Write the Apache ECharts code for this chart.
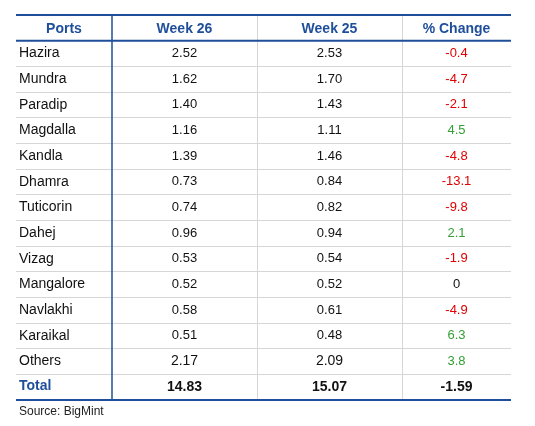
<!DOCTYPE html>
<html>
<head>
<meta charset="utf-8">
<script src="https://cdn.jsdelivr.net/npm/echarts@6/dist/echarts.min.js"></script>
<style>
html, body { margin: 0; padding: 0; background: #fff; }
#main { width: 535px; height: 426px; }
</style>
</head>
<body>
<div id="main"></div>
<script>
// table data
var headers = ['Ports', 'Week 26', 'Week 25', '% Change'];
var ports = ['Hazira', 'Mundra', 'Paradip', 'Magdalla', 'Kandla', 'Dhamra', 'Tuticorin',
    'Dahej', 'Vizag', 'Mangalore', 'Navlakhi', 'Karaikal', 'Others'];
var week26 = [2.52, 1.62, 1.40, 1.16, 1.39, 0.73, 0.74, 0.96, 0.53, 0.52, 0.58, 0.51, 2.17];
var week25 = [2.53, 1.70, 1.43, 1.11, 1.46, 0.84, 0.82, 0.94, 0.54, 0.52, 0.61, 0.48, 2.09];
var pctChange = [-0.4, -4.7, -2.1, 4.5, -4.8, -13.1, -9.8, 2.1, -1.9, 0, -4.9, 6.3, 3.8];
var totalLabel = 'Total';
var totals = [14.83, 15.07, -1.59];
var source = 'Source: BigMint';

var BLUE = '#1f4e9a', GRAY = '#d6d6d6', RED = '#e00000', GREEN = '#35a035';
var FONT = '"Liberation Sans", Arial, sans-serif';

var rowKeys = [headers[0]].concat(ports, [totalLabel]);
var lastRow = rowKeys.length - 1;

function pctText(v) { return v === 0 ? '0' : v.toFixed(1); }

// one text list per column
var cells = [
    [headers[0]].concat(ports, [totalLabel]),
    [headers[1]].concat(week26.map(function (v) { return v.toFixed(2); }), [totals[0].toFixed(2)]),
    [headers[2]].concat(week25.map(function (v) { return v.toFixed(2); }), [totals[1].toFixed(2)]),
    [headers[3]].concat(pctChange.map(pctText), [totals[2].toFixed(2)])
];

var colLeft = [16, 112, 257, 402];
var colRight = [112, 257, 402, 511];

function cellStyle(col, row) {
    if (row === 0) {
        return { fill: BLUE, font: 'bold 14px ' + FONT, align: 'center' };
    }
    if (row === lastRow) {
        return { fill: col === 0 ? BLUE : '#111', font: 'bold 14px ' + FONT, align: col === 0 ? 'left' : 'center' };
    }
    if (col === 0) {
        return { fill: '#111', font: '14px ' + FONT, align: 'left' };
    }
    if (col === 3) {
        var v = pctChange[row - 1];
        return { fill: v < 0 ? RED : (v > 0 ? GREEN : '#111'), font: '13px ' + FONT, align: 'center' };
    }
    var big = rowKeys[row] === 'Others';
    return { fill: '#111', font: (big ? '14px ' : '13px ') + FONT, align: 'center' };
}

function makeRender(col) {
    return function (params, api) {
        var row = params.dataIndex;
        var c = api.coord([0.5, row]);
        var x0 = api.coord([0, row])[0];
        var x1 = api.coord([1, row])[0];
        var h = api.size([0, 1])[1];
        var top = c[1] - h / 2, bottom = c[1] + h / 2;
        var st = cellStyle(col, row);
        var children = [{
            type: 'text',
            style: {
                text: cells[col][row],
                x: st.align === 'left' ? x0 + 3 : c[0],
                y: c[1] + (row === 0 ? 1 : 0) + (row === lastRow && col === 0 ? -1 : 0),
                align: st.align,
                verticalAlign: 'middle',
                font: st.font,
                fill: st.fill
            }
        }];
        var band = { fill: BLUE };
        if (row === 0) {
            children.push({ type: 'rect', shape: { x: x0, y: top - 1, width: x1 - x0, height: 2 }, style: band });
            children.push({ type: 'rect', shape: { x: x0, y: bottom - 1, width: x1 - x0, height: 2 }, style: band });
        }
        if (row === lastRow) {
            children.push({ type: 'rect', shape: { x: x0, y: bottom - 1, width: x1 - x0, height: 2 }, style: band });
        }
        return { type: 'group', children: children };
    };
}

var grids = [], xAxes = [], yAxes = [], series = [];
for (var i = 0; i < 4; i++) {
    grids.push({ left: colLeft[i], width: colRight[i] - colLeft[i], top: 15, height: 385 });
    xAxes.push({ gridIndex: i, type: 'value', min: 0, max: 1, show: false });
    yAxes.push({
        gridIndex: i,
        type: 'category',
        data: rowKeys,
        inverse: true,
        axisLabel: { show: false },
        axisTick: { show: false },
        axisLine: { show: i > 0, lineStyle: { color: i === 1 ? BLUE : GRAY, width: i === 1 ? 1.5 : 1 } },
        splitLine: { show: true, lineStyle: { color: GRAY, width: 1 } }
    });
    series.push({
        type: 'custom',
        xAxisIndex: i,
        yAxisIndex: i,
        renderItem: makeRender(i),
        encode: { x: 0, y: 1 },
        data: rowKeys.map(function (k, r) { return [0.5, r]; }),
        silent: true,
        clip: false
    });
}

var option = {
    animation: false,
    title: {
        text: source,
        left: 19,
        top: 406,
        padding: 0,
        textStyle: { fontSize: 12, fontWeight: 'normal', color: '#222', fontFamily: FONT, lineHeight: 12 }
    },
    grid: grids,
    xAxis: xAxes,
    yAxis: yAxes,
    series: series
};

var myChart = echarts.init(document.getElementById('main'));
myChart.setOption(option, true);
</script>
</body>
</html>
